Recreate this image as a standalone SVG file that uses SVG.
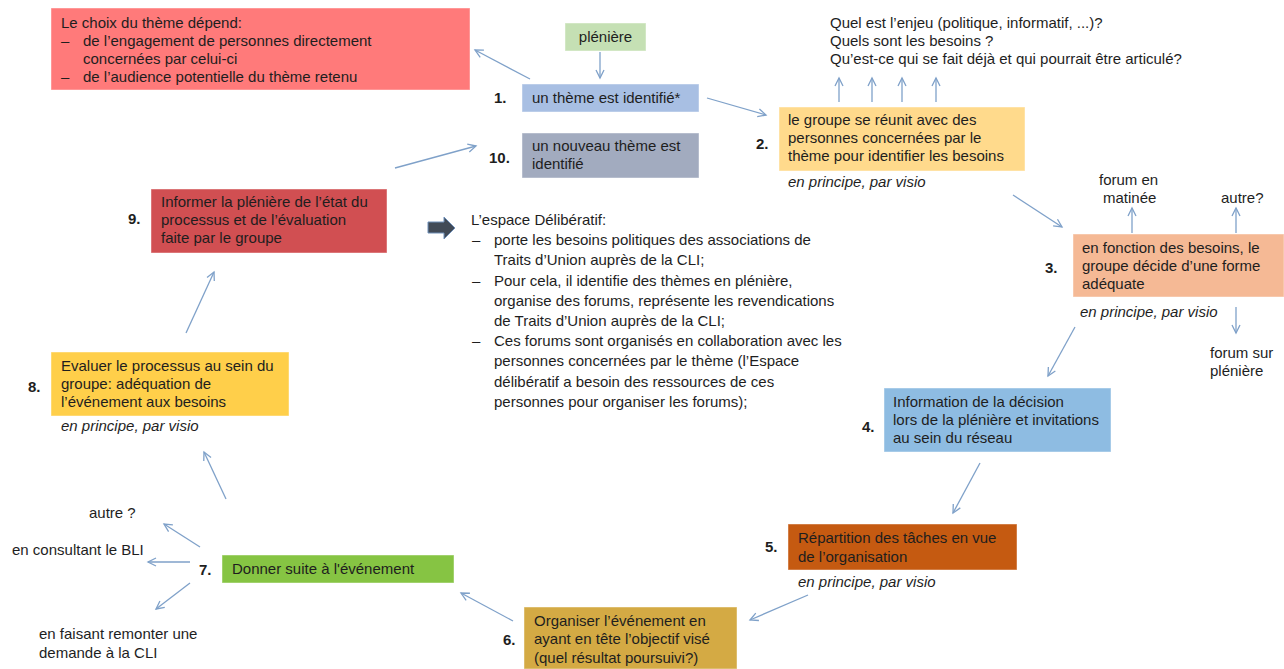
<svg xmlns="http://www.w3.org/2000/svg" width="1284" height="669" viewBox="0 0 1284 669">
<defs>
<style>
text{font-family:"Liberation Sans",Arial,sans-serif;font-size:15px;fill:#1e1e1e}
.b{font-weight:bold}
.i{font-style:italic}
.box{stroke:#ffffff;stroke-opacity:.45;stroke-width:1}
.c line{stroke:#7fa1c9;stroke-width:1.3;marker-end:url(#ah)}
</style>
<marker id="ah" viewBox="-10 -6 12 12" refX="0" refY="0" markerWidth="12" markerHeight="12" markerUnits="userSpaceOnUse" orient="auto">
<path d="M-8,-4 L0,0 L-8,4" fill="none" stroke="#7fa1c9" stroke-width="1.3"/>
</marker>
</defs>
<rect width="1284" height="669" fill="#ffffff"/>

<g id="connectors" class="c">
<line x1="600" y1="52" x2="600" y2="78"/>
<line x1="530" y1="79" x2="475" y2="50"/>
<line x1="707" y1="98" x2="766" y2="115"/>
<line x1="839" y1="102" x2="839" y2="78"/>
<line x1="872" y1="102" x2="872" y2="78"/>
<line x1="902" y1="102" x2="902" y2="78"/>
<line x1="936" y1="102" x2="936" y2="78"/>
<line x1="1013" y1="195" x2="1062" y2="227"/>
<line x1="1132" y1="233" x2="1132" y2="208"/>
<line x1="1236" y1="233" x2="1236" y2="208"/>
<line x1="1236" y1="307" x2="1236" y2="333"/>
<line x1="1075" y1="327" x2="1048" y2="376"/>
<line x1="980" y1="463" x2="953" y2="513"/>
<line x1="808" y1="595" x2="750" y2="620"/>
<line x1="513" y1="621" x2="461" y2="593"/>
<line x1="200" y1="547" x2="164" y2="524"/>
<line x1="190" y1="562" x2="148" y2="562"/>
<line x1="190" y1="583" x2="156" y2="609"/>
<line x1="226" y1="499" x2="204" y2="452"/>
<line x1="186" y1="333" x2="214" y2="272"/>
<line x1="395" y1="168" x2="476" y2="146"/>
</g>

<g id="note-choix">
<rect class="box" x="51" y="8" width="419" height="82" fill="#ff7a7a"/>
<text x="61" y="28">Le choix du thème dépend:</text>
<text x="61" y="46">–</text><text x="83" y="46">de l’engagement de personnes directement</text>
<text x="83" y="64">concernées par celui-ci</text>
<text x="61" y="82">–</text><text x="83" y="82">de l’audience potentielle du thème retenu</text>
</g>

<g id="pleniere">
<rect class="box" x="565" y="23" width="81" height="28" fill="#c5e0b4"/>
<text x="605.5" y="42" text-anchor="middle">plénière</text>
</g>

<g id="step1">
<text class="b" x="494" y="103">1.</text>
<rect class="box" x="522" y="84" width="177" height="28" fill="#a8bfe3"/>
<text x="532" y="103">un thème est identifié*</text>
</g>

<g id="step10">
<text class="b" x="489" y="163">10.</text>
<rect class="box" x="522" y="133" width="177" height="45" fill="#a2abbf"/>
<text x="532" y="151">un nouveau thème est</text>
<text x="532" y="169">identifié</text>
</g>

<g id="questions">
<text x="830" y="28">Quel est l’enjeu (politique, informatif, ...)?</text>
<text x="830" y="46">Quels sont les besoins ?</text>
<text x="830" y="64">Qu’est-ce qui se fait déjà et qui pourrait être articulé?</text>
</g>

<g id="step2">
<text class="b" x="756" y="149">2.</text>
<rect class="box" x="779" y="107" width="246" height="64" fill="#ffda8c"/>
<text x="788" y="125">le groupe se réunit avec des</text>
<text x="788" y="143">personnes concernées par le</text>
<text x="788" y="161">thème pour identifier les besoins</text>
<text class="i" x="788" y="187">en principe, par visio</text>
</g>

<g id="step3">
<text class="b" x="1045" y="273">3.</text>
<rect class="box" x="1073" y="234" width="211" height="63" fill="#f5b995"/>
<text x="1082" y="253">en fonction des besoins, le</text>
<text x="1082" y="271">groupe décide d’une forme</text>
<text x="1082" y="289">adéquate</text>
<text class="i" x="1080" y="317">en principe, par visio</text>
</g>

<g id="options3">
<text x="1099" y="185">forum en</text>
<text x="1103" y="203">matinée</text>
<text x="1221" y="203">autre?</text>
<text x="1210" y="358">forum sur</text>
<text x="1210" y="376">plénière</text>
</g>

<g id="step4">
<text class="b" x="862" y="432">4.</text>
<rect class="box" x="884" y="388" width="227" height="64" fill="#8ebce2"/>
<text x="893" y="407">Information de la décision</text>
<text x="893" y="425">lors de la plénière et invitations</text>
<text x="893" y="443">au sein du réseau</text>
</g>

<g id="step5">
<text class="b" x="765" y="552">5.</text>
<rect class="box" x="788" y="524" width="229" height="46" fill="#c55a11"/>
<text x="798" y="543">Répartition des tâches en vue</text>
<text x="798" y="562">de l’organisation</text>
<text class="i" x="798" y="587">en principe, par visio</text>
</g>

<g id="step6">
<text class="b" x="503" y="645">6.</text>
<rect class="box" x="524" y="607" width="213" height="62" fill="#d4aa44"/>
<text x="534" y="626">Organiser l’événement en</text>
<text x="534" y="644">ayant en tête l’objectif visé</text>
<text x="534" y="663">(quel résultat poursuivi?)</text>
</g>

<g id="step7">
<text class="b" x="199" y="575">7.</text>
<rect class="box" x="222" y="555" width="232" height="28" fill="#86c443"/>
<text x="232" y="574">Donner suite à l'événement</text>
</g>

<g id="options7">
<text x="89" y="518">autre ?</text>
<text x="12" y="555">en consultant le BLI</text>
<text x="39" y="639">en faisant remonter une</text>
<text x="39" y="658">demande à la CLI</text>
</g>

<g id="step8">
<text class="b" x="28" y="392">8.</text>
<rect class="box" x="51" y="352" width="238" height="64" fill="#ffcf4a"/>
<text x="61" y="371">Evaluer le processus au sein du</text>
<text x="61" y="389">groupe: adéquation de</text>
<text x="61" y="407">l’événement aux besoins</text>
<text class="i" x="61" y="431">en principe, par visio</text>
</g>

<g id="step9">
<text class="b" x="128" y="224">9.</text>
<rect class="box" x="151" y="189" width="236" height="64" fill="#d14f52"/>
<text x="161" y="207">Informer la plénière de l’état du</text>
<text x="161" y="225">processus et de l’évaluation</text>
<text x="161" y="243">faite par le groupe</text>
</g>

<g id="espace">
<path d="M428,222 L444,222 L444,217 L455,228 L444,239 L444,233 L428,233 Z" fill="#414a56" stroke="#6f8fb8" stroke-width="1"/>
<text x="471" y="225">L’espace Délibératif:</text>
<text x="472" y="245">–</text><text x="494" y="245">porte les besoins politiques des associations de</text>
<text x="494" y="265">Traits d’Union auprès de la CLI;</text>
<text x="472" y="286">–</text><text x="494" y="286">Pour cela, il identifie des thèmes en plénière,</text>
<text x="494" y="306">organise des forums, représente les revendications</text>
<text x="494" y="326">de Traits d’Union auprès de la CLI;</text>
<text x="472" y="346">–</text><text x="494" y="346">Ces forums sont organisés en collaboration avec les</text>
<text x="494" y="366">personnes concernées par le thème (l’Espace</text>
<text x="494" y="387">délibératif a besoin des ressources de ces</text>
<text x="494" y="407">personnes pour organiser les forums);</text>
</g>
</svg>
